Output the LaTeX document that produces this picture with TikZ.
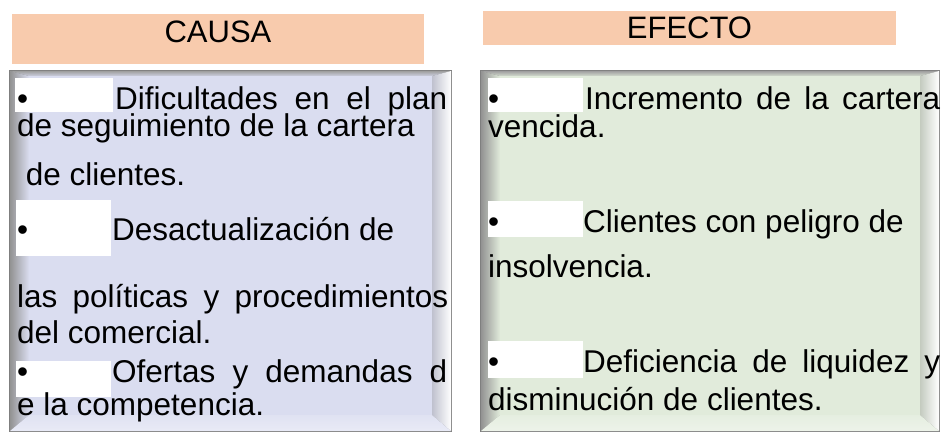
\documentclass[tikz,border=0pt]{standalone}
\usepackage{fontspec}
\setmainfont{Liberation Sans}
\definecolor{hdr}{HTML}{F8CBAD}
\definecolor{lface}{HTML}{DADDF0}
\definecolor{rface}{HTML}{E1EBDB}
\definecolor{edgegray}{HTML}{7F7F7F}
\newcommand\dgbody{\fontsize{31.5}{36}\selectfont}
\newcommand\dghead{\fontsize{31}{36}\selectfont}
\tikzset{
  txt/.style={font=\dgbody, inner sep=0pt, anchor=base west, text=black},
  firstline/.style={txt, text depth=0pt},
  headtxt/.style={font=\dghead, inner sep=0pt, anchor=base, text=black},
  hdrbox/.style={fill=hdr, draw=none},
  tabwhite/.style={fill=white, draw=none},
}
% bevelled box: #1 face colour, x0,y0,x1,y1
\newcommand\dgbevel[5]{%
  \fill[edgegray] (#2,#3) rectangle (#4,#5);
  \shade[left color=gray!85, middle color=white, right color=#1]
    (#2+1,#3+1) -- (#2+20,#3+6) -- (#2+20,#5-17) -- (#2+1,#5-1) -- cycle;
  \shade[top color=gray!75, bottom color=#1!85!gray]
    (#2+1,#3+1) -- (#4-1,#3+1) -- (#4-20,#3+6) -- (#2+20,#3+6) -- cycle;
  \shade[left color=#1!70!gray, middle color=#1!40!white, right color=white]
    (#4-1,#3+1) -- (#4-1,#5-1) -- (#4-20,#5-17) -- (#4-20,#3+6) -- cycle;
  \shade[top color=#1!85!white, bottom color=#1!60!white]
    (#2+1,#5-1) -- (#4-1,#5-1) -- (#4-20,#5-17) -- (#2+20,#5-17) -- cycle;
  \fill[#1] (#2+20,#3+6) rectangle (#4-20,#5-17);
}
\begin{document}
\begin{tikzpicture}[x=1pt,y=-1pt]
\fill[white] (0,0) rectangle (941,433);
\useasboundingbox (0,0) rectangle (941,433);

% headers
\fill[hdrbox] (12,14) rectangle (424,64);
\node[headtxt] (causa) at (218,43) {CAUSA};
\fill[hdrbox] (483,11) rectangle (896,45);
\node[headtxt] (efecto) at (689.5,39) {EFECTO};

% boxes
\dgbevel{lface}{9}{70}{452}{432}
\dgbevel{rface}{480}{70}{940}{432}

% white tab highlights
\fill[tabwhite] (15,78) rectangle (113,112);
\fill[tabwhite] (16,200) rectangle (111,256);
\fill[tabwhite] (16,361) rectangle (111,397);
\fill[tabwhite] (488,78) rectangle (583,112);
\fill[tabwhite] (488,201) rectangle (583,237);
\fill[tabwhite] (488,341) rectangle (583,378);

% left text
\node[firstline] (lb1) at (17,110) {•};
\node[firstline] (l1) at (115,110) {\makebox[332pt][s]{Dificultades en el plan}};
\node[txt] (l2) at (17,136) {de seguimiento de la cartera};
\node[txt] (l3) at (17,185) {\ de clientes.};
\node[txt] (lb2) at (17,240) {•};
\node[txt] (l4) at (112,240) {Desactualización de};
\node[txt] (l5) at (17,307) {\makebox[431pt][s]{las políticas y procedimientos}};
\node[txt] (l6) at (17,343) {del comercial.};
\node[firstline] (lb3) at (17,382) {•};
\node[firstline] (l7) at (112,382) {\makebox[335pt][s]{Ofertas y demandas d}};
\node[txt] (l8) at (17,415) {e la competencia.};

% right text
\node[firstline] (rb1) at (488,110) {•};
\node[firstline] (r1) at (585,110) {\makebox[355pt][s]{Incremento de la cartera}};
\node[txt] (r2) at (488,137) {vencida.};
\node[txt] (rb2) at (488,232) {•};
\node[txt] (r3) at (583,232) {Clientes con peligro de};
\node[txt] (r4) at (488,277) {insolvencia.};
\node[firstline] (rb3) at (488,372) {•};
\node[firstline] (r5) at (583,372) {\makebox[357pt][s]{Deficiencia de liquidez y}};
\node[txt] (r6) at (488,410) {disminución de clientes.};
\end{tikzpicture}
\end{document}
